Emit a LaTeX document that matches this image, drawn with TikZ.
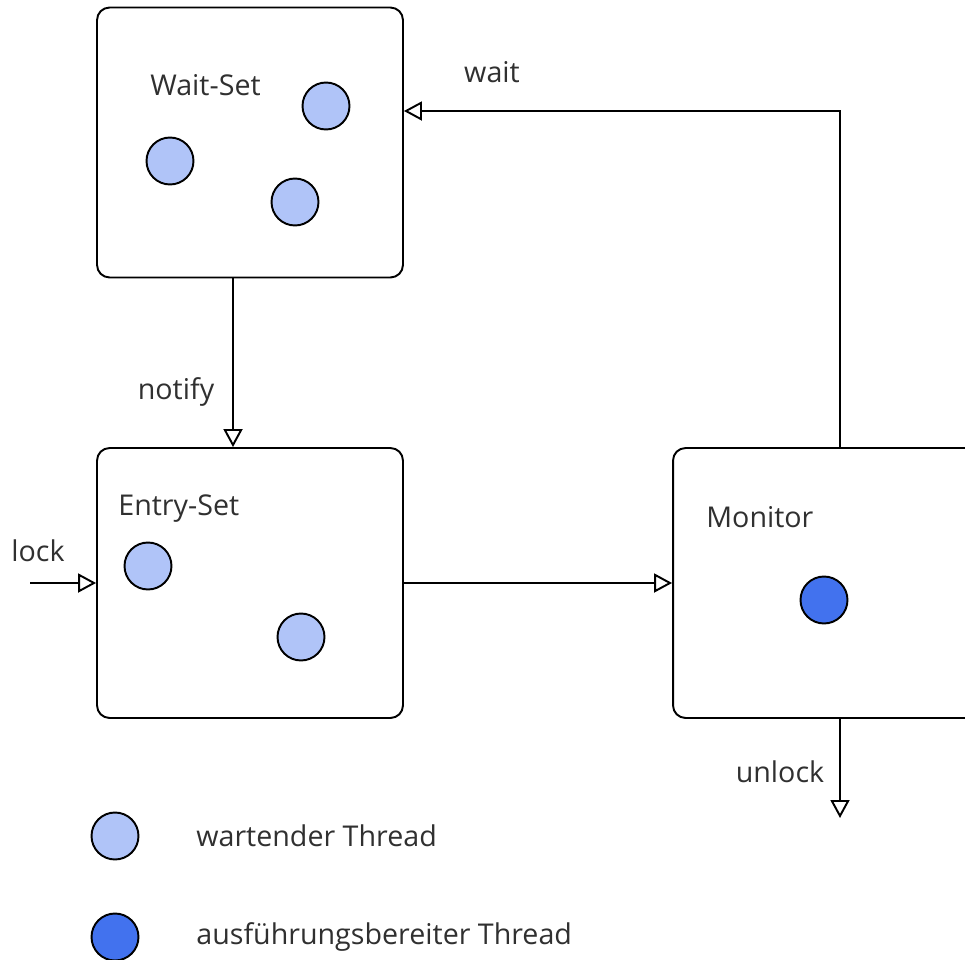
\documentclass[tikz,border=0pt]{standalone}
\usepackage{fontspec}
\setmainfont{Open Sans}
\usetikzlibrary{arrows.meta}
\definecolor{waitblue}{HTML}{B0C4F8}
\definecolor{runblue}{HTML}{4272EE}
\definecolor{textgray}{HTML}{303030}
\tikzset{
  box/.style={draw, line width=1.1pt, rounded corners=0.25cm, minimum width=6.12cm, minimum height=5.4cm},
  waiting/.style={circle, draw, line width=1.1pt, fill=waitblue, minimum size=0.94cm, inner sep=0pt},
  running/.style={circle, draw, line width=1.1pt, fill=runblue, minimum size=0.94cm, inner sep=0pt},
  flow/.style={line width=1.1pt, -{Triangle[open, length=0.36cm, width=0.38cm]}},
  lbl/.style={font=\fontsize{16.3}{19}\selectfont, text=textgray, inner sep=0pt}
}
\begin{document}
\begin{tikzpicture}[x=0.02cm, y=-0.02cm]
      \useasboundingbox (0,0) rectangle (965,960);

      % the three sets
      \node [box] (waitset) at (250,142.5) {};
      \node [box] (entryset) at (250,583) {};
      \node [box, minimum width=6.68cm] (monitor) at (840,583) {};

      \node [lbl, anchor=west] (waitlbl) at (150,85) {Wait-Set};
      \node [lbl, anchor=west] (entrylbl) at (118,509) {Entry-Set};
      \node [lbl, anchor=west] (monlbl) at (706,517) {Monitor};

      % threads
      \node [waiting] (w1) at (170,161) {};
      \node [waiting] (w2) at (326,106) {};
      \node [waiting] (w3) at (295,202) {};
      \node [waiting] (e1) at (148,566) {};
      \node [waiting] (e2) at (301,637) {};
      \node [running] (m1) at (824,600) {};

      % transitions
      \coordinate (notifyx) at (233,400);
      \coordinate (waity) at (600,111);
      \coordinate (lockstart) at (30,583);
      \coordinate (unlockend) at (840,818);

      \draw [flow] (monitor.north) |- (waitset.east |- waity);
      \draw [flow] (waitset.south -| notifyx) -- (entryset.north -| notifyx);
      \draw [flow] (entryset) -- (monitor);
      \draw [flow] (lockstart) -- (entryset.west);
      \draw [flow] (monitor.south) -- (unlockend);

      \node [lbl] (waitl) at (492,72) {wait};
      \node [lbl] (notifyl) at (176,392) {notify};
      \node [lbl] (lockl) at (38,551) {lock};
      \node [lbl] (unlockl) at (780,772) {unlock};

      % legend
      \node [waiting] (legw) at (115,836) {};
      \node [running] (legr) at (115,937) {};
      \node [lbl, anchor=west] (legwt) at (196,836) {wartender Thread};
      \node [lbl, anchor=west] (legrt) at (196,937) {ausführungsbereiter Thread};
\end{tikzpicture}
\end{document}
